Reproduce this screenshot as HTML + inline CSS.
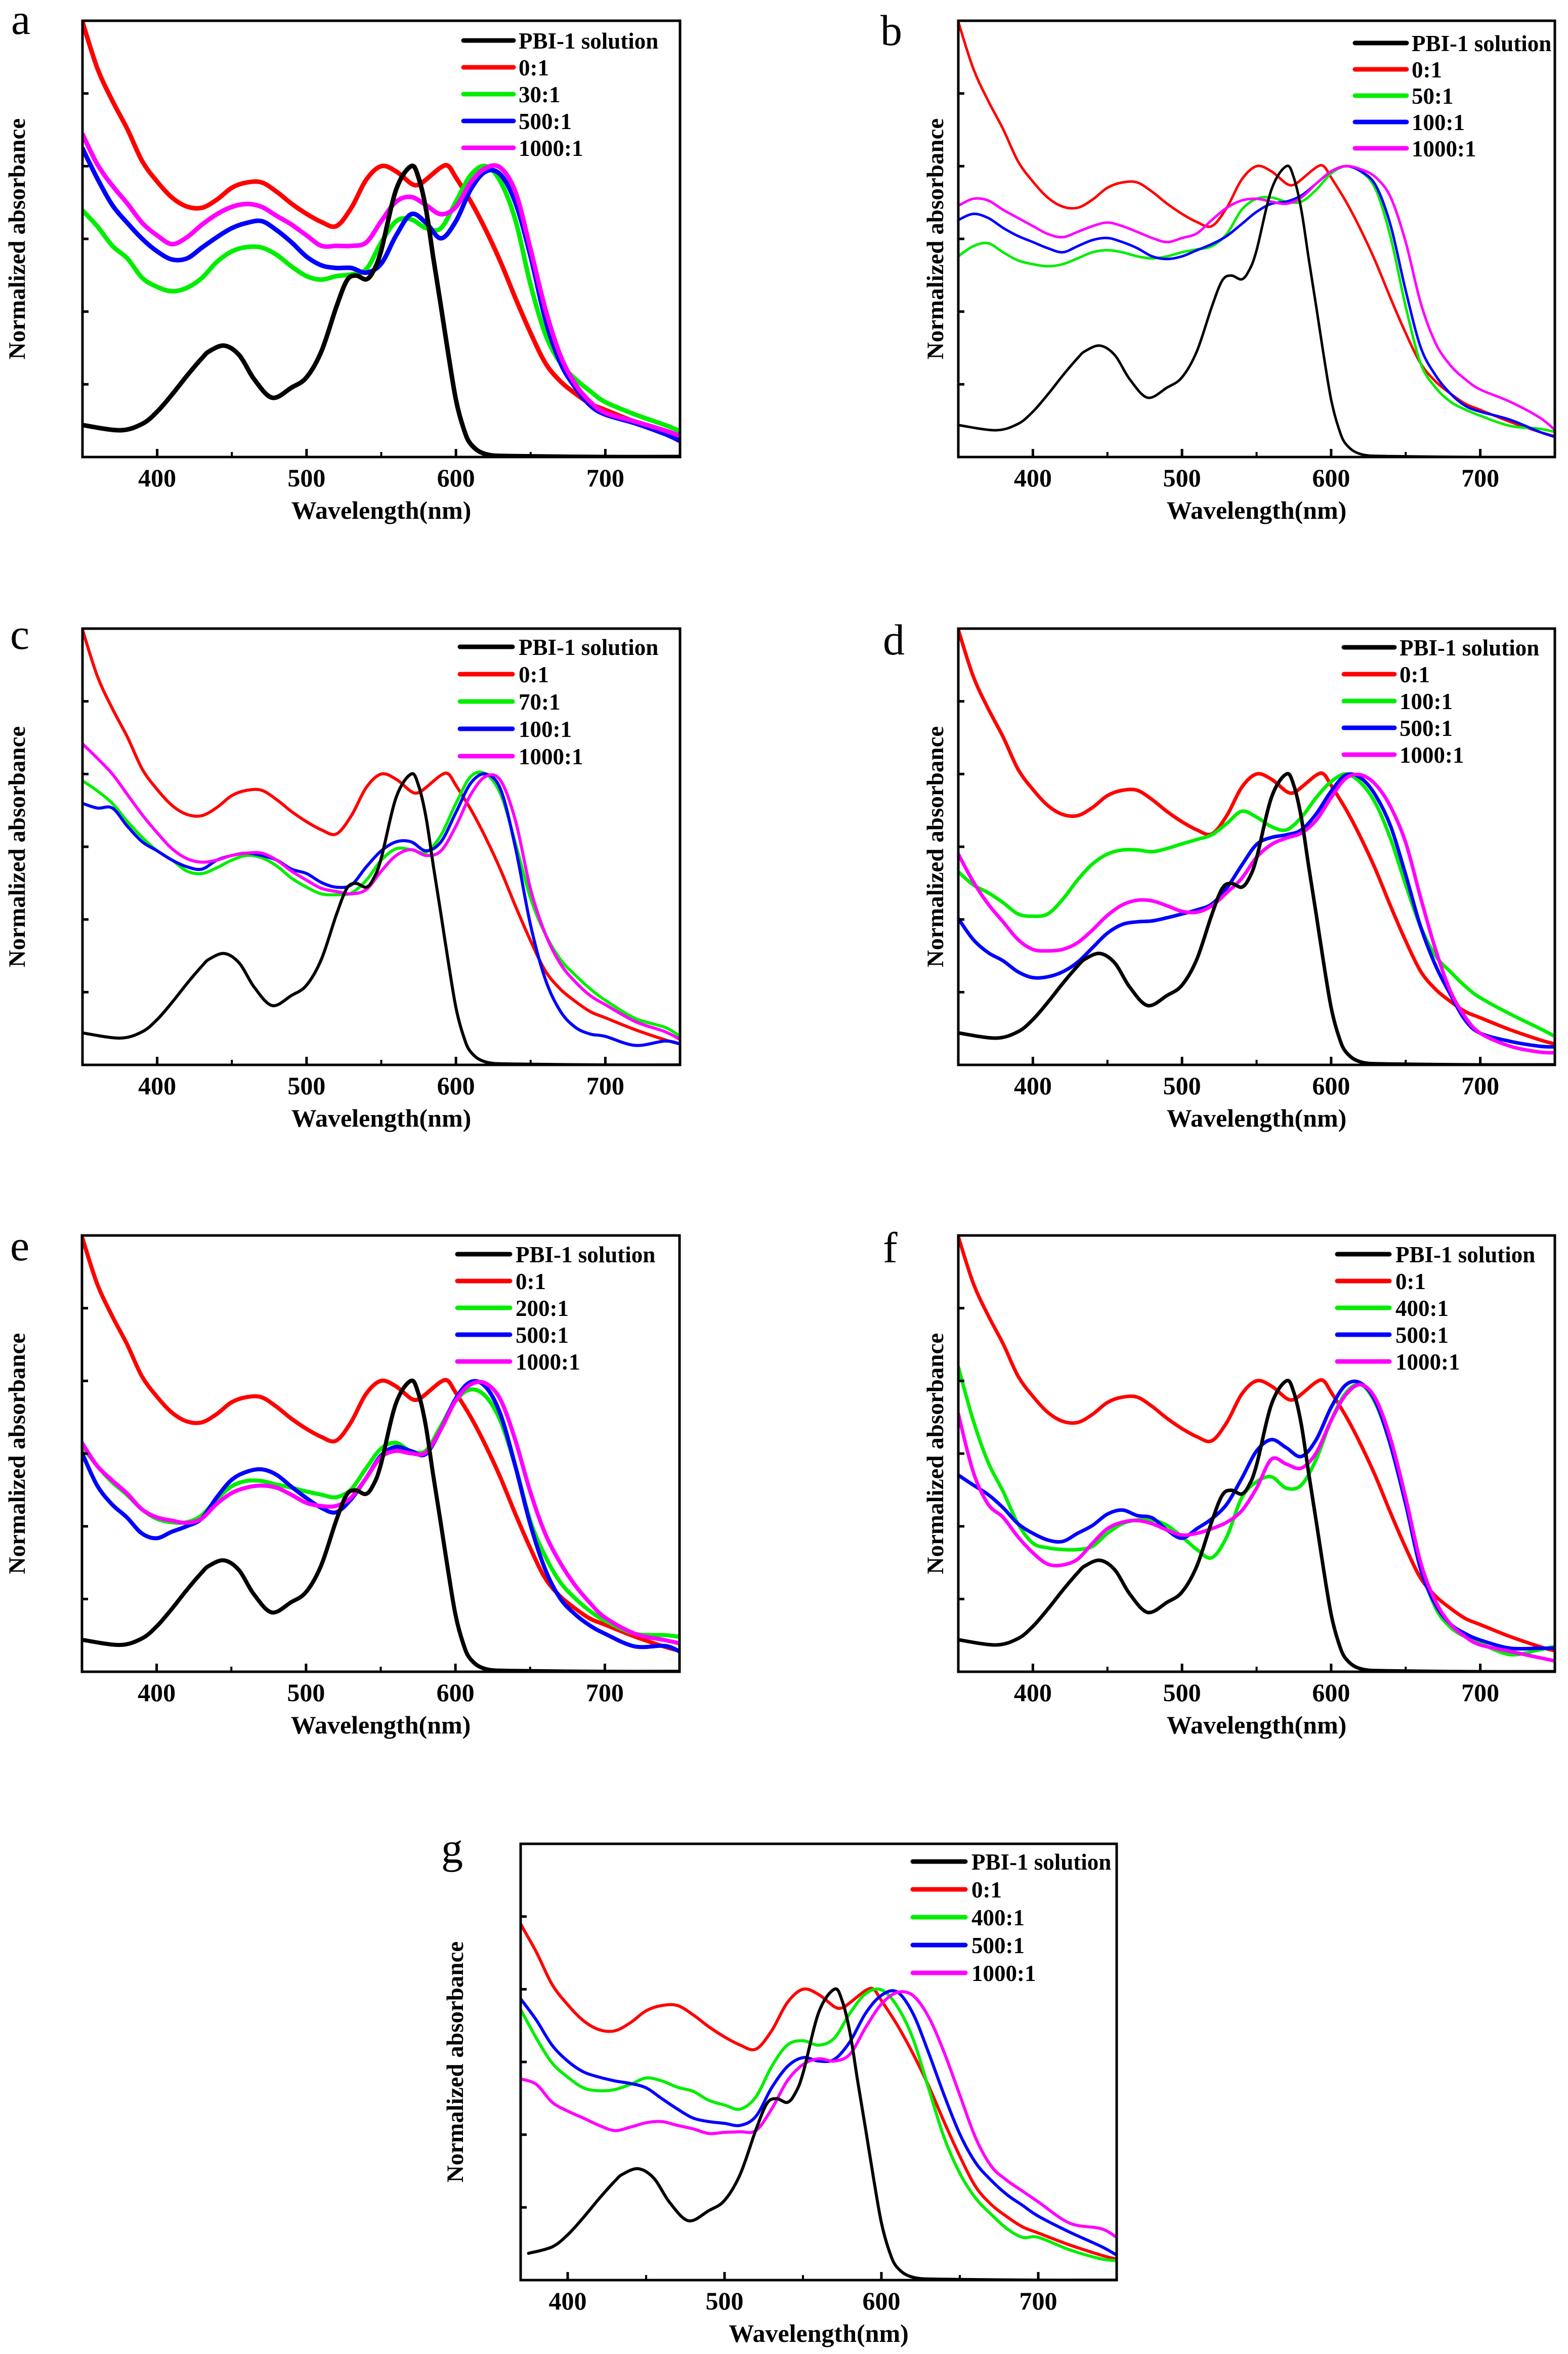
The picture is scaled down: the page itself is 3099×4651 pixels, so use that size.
<!DOCTYPE html>
<html><head><meta charset="utf-8"><style>
html,body{margin:0;padding:0;background:#fff}
svg{display:block}
text{font-family:"Liberation Serif",serif}
</style></head><body>
<svg id="fig" width="3099" height="4651" viewBox="0 0 3099 4651" xmlns="http://www.w3.org/2000/svg"></svg>
<script>
// shared series (PBI-1 solution and 0:1)
const blackWl = [350,375,390,400,410,420,430,435,445,455,465,477,490,500,510,520,527,533,540,545,550,560,570,575,580,585,590,595,600,605,610,620,640,700,750];
const blackVal = [0.11,0.092,0.114,0.156,0.215,0.28,0.34,0.364,0.383,0.35,0.267,0.204,0.239,0.274,0.364,0.517,0.607,0.624,0.611,0.642,0.711,0.92,1.0,0.96,0.85,0.68,0.517,0.35,0.197,0.1,0.044,0.01,0.003,0,0];
const redWl = [350,360,370,380,390,400,410,420,430,440,450,460,470,480,490,500,510,520,530,540,550,560,570,575,580,590,595,600,610,620,630,640,650,660,670,680,690,700,720,740,750];
const redVal = [1.496,1.336,1.225,1.128,1.017,0.947,0.892,0.861,0.857,0.885,0.926,0.944,0.944,0.912,0.871,0.836,0.808,0.794,0.857,0.954,1.0,0.982,0.94,0.936,0.954,0.996,1.0,0.961,0.878,0.78,0.669,0.544,0.426,0.322,0.26,0.218,0.183,0.162,0.121,0.086,0.072];
const grid = [350,360,370,380,390,400,410,420,430,440,450,460,470,480,490,500,510,520,530,540,550,560,570,580,590,600,610,620,630,640,650,660,670,680,690,700,720,740,750];
const gridG = [370,380,390,400,410,420,430,440,450,460,470,480,490,500,510,520,530,540,550,560,570,580,590,600,610,620,630,640,650,660,670,680,690,700,720,740,750];
const xTicks = [400,500,600,700];
const xMinor = [450,550,650];
const yTicks = [0.25,0.5,0.75,1.0,1.25];
const legendColors = ["#000000","#ff0000","#00ee00","#0000ff","#ff00ff"];

// panel a
const aLabels = ["PBI-1 solution","0:1","30:1","500:1","1000:1"];
const aGreen = [0.848,0.793,0.726,0.683,0.616,0.585,0.57,0.582,0.616,0.671,0.707,0.722,0.72,0.695,0.655,0.622,0.61,0.622,0.628,0.646,0.738,0.811,0.817,0.787,0.787,0.878,0.97,1.0,0.945,0.811,0.591,0.42,0.323,0.268,0.226,0.189,0.146,0.11,0.089];
const aBlue = [1.061,0.957,0.866,0.805,0.75,0.707,0.679,0.683,0.72,0.756,0.787,0.805,0.811,0.78,0.738,0.689,0.659,0.65,0.65,0.634,0.665,0.762,0.835,0.805,0.752,0.811,0.921,0.982,0.97,0.872,0.689,0.47,0.323,0.238,0.177,0.146,0.116,0.079,0.055];
const aMag = [1.11,1.006,0.933,0.872,0.805,0.762,0.732,0.756,0.799,0.835,0.86,0.87,0.86,0.829,0.799,0.762,0.726,0.726,0.726,0.738,0.811,0.878,0.894,0.866,0.835,0.86,0.945,0.994,0.994,0.909,0.713,0.506,0.348,0.25,0.189,0.152,0.122,0.091,0.073];
// panel b
const bLabels = ["PBI-1 solution","0:1","50:1","100:1","1000:1"];
const bGreen = [0.69,0.725,0.735,0.704,0.676,0.663,0.656,0.663,0.683,0.704,0.711,0.704,0.69,0.683,0.69,0.704,0.714,0.725,0.767,0.85,0.888,0.892,0.878,0.878,0.919,0.975,1.0,0.982,0.919,0.753,0.517,0.322,0.239,0.19,0.163,0.142,0.107,0.097,0.086];
const bBlue = [0.815,0.836,0.822,0.788,0.76,0.739,0.718,0.704,0.725,0.746,0.753,0.739,0.718,0.69,0.681,0.69,0.711,0.732,0.76,0.801,0.843,0.871,0.878,0.899,0.94,0.982,1.0,0.982,0.933,0.794,0.572,0.378,0.281,0.218,0.176,0.156,0.128,0.086,0.069];
const bMag = [0.864,0.888,0.882,0.85,0.822,0.794,0.767,0.756,0.774,0.794,0.806,0.794,0.774,0.753,0.739,0.753,0.769,0.815,0.857,0.882,0.888,0.878,0.871,0.892,0.94,0.982,1.0,0.989,0.961,0.892,0.739,0.531,0.392,0.315,0.267,0.232,0.19,0.135,0.093];
// panel c
const cLabels = ["PBI-1 solution","0:1","70:1","100:1","1000:1"];
const cGreen = [0.977,0.942,0.899,0.837,0.782,0.736,0.704,0.666,0.658,0.678,0.704,0.72,0.712,0.684,0.642,0.611,0.588,0.585,0.591,0.635,0.704,0.743,0.74,0.731,0.79,0.899,0.992,1.0,0.93,0.759,0.572,0.448,0.362,0.308,0.261,0.222,0.16,0.129,0.098];
const cBlue = [0.899,0.883,0.883,0.821,0.767,0.736,0.704,0.681,0.673,0.704,0.72,0.728,0.72,0.704,0.673,0.658,0.627,0.611,0.619,0.681,0.736,0.767,0.767,0.736,0.767,0.868,0.969,1.0,0.946,0.743,0.479,0.292,0.184,0.129,0.106,0.098,0.067,0.082,0.072];
const cMag = [1.104,1.054,1.0,0.93,0.86,0.798,0.743,0.709,0.697,0.704,0.72,0.728,0.728,0.704,0.666,0.635,0.607,0.596,0.588,0.603,0.666,0.72,0.74,0.72,0.736,0.821,0.93,0.992,0.977,0.837,0.603,0.448,0.347,0.285,0.238,0.207,0.149,0.114,0.087];
// panel d
const dLabels = ["PBI-1 solution","0:1","100:1","500:1","1000:1"];
const dGreen = [0.664,0.619,0.592,0.558,0.519,0.511,0.519,0.569,0.636,0.691,0.725,0.739,0.739,0.733,0.744,0.76,0.775,0.791,0.83,0.872,0.852,0.819,0.808,0.851,0.919,0.974,1.0,0.969,0.897,0.775,0.619,0.475,0.375,0.32,0.27,0.231,0.175,0.125,0.098];
const dBlue = [0.503,0.431,0.386,0.358,0.32,0.3,0.303,0.32,0.353,0.403,0.453,0.483,0.492,0.495,0.506,0.519,0.533,0.553,0.608,0.686,0.758,0.782,0.791,0.808,0.863,0.941,0.997,0.986,0.925,0.819,0.653,0.475,0.342,0.242,0.153,0.109,0.081,0.064,0.062];
const dMag = [0.725,0.63,0.553,0.492,0.431,0.397,0.392,0.397,0.42,0.464,0.514,0.55,0.566,0.564,0.547,0.528,0.525,0.547,0.592,0.641,0.714,0.758,0.78,0.797,0.841,0.919,0.986,0.997,0.963,0.886,0.764,0.575,0.397,0.253,0.164,0.109,0.064,0.044,0.042];
// panel e
const eLabels = ["PBI-1 solution","0:1","200:1","500:1","1000:1"];
const eGreen = [0.776,0.709,0.653,0.609,0.559,0.526,0.514,0.514,0.537,0.592,0.637,0.656,0.656,0.644,0.633,0.62,0.609,0.6,0.626,0.698,0.766,0.787,0.759,0.759,0.842,0.931,0.97,0.948,0.864,0.709,0.52,0.398,0.309,0.253,0.209,0.176,0.131,0.126,0.12];
const eBlue = [0.753,0.642,0.576,0.531,0.476,0.459,0.481,0.5,0.526,0.598,0.659,0.687,0.696,0.678,0.637,0.598,0.564,0.548,0.592,0.664,0.742,0.773,0.759,0.748,0.831,0.937,0.996,0.981,0.887,0.709,0.509,0.353,0.253,0.198,0.159,0.131,0.087,0.089,0.07];
const eMag = [0.787,0.709,0.659,0.614,0.559,0.531,0.52,0.512,0.526,0.576,0.614,0.633,0.64,0.633,0.609,0.581,0.57,0.57,0.598,0.664,0.737,0.759,0.751,0.753,0.831,0.931,0.987,0.992,0.937,0.798,0.62,0.476,0.376,0.298,0.237,0.187,0.131,0.109,0.098];
// panel f
const fLabels = ["PBI-1 solution","0:1","400:1","500:1","1000:1"];
const fGreen = [1.048,0.864,0.72,0.62,0.509,0.442,0.426,0.42,0.42,0.431,0.476,0.509,0.522,0.522,0.503,0.464,0.42,0.392,0.464,0.598,0.653,0.67,0.631,0.642,0.731,0.864,0.959,0.987,0.92,0.776,0.576,0.364,0.22,0.153,0.12,0.098,0.059,0.076,0.087];
const fBlue = [0.676,0.642,0.609,0.564,0.509,0.476,0.453,0.448,0.476,0.503,0.542,0.556,0.537,0.529,0.487,0.459,0.492,0.526,0.576,0.664,0.759,0.798,0.77,0.74,0.798,0.909,0.987,0.992,0.926,0.776,0.576,0.353,0.231,0.164,0.131,0.109,0.081,0.081,0.081];
const fMag = [0.887,0.687,0.576,0.531,0.464,0.409,0.37,0.367,0.387,0.442,0.492,0.514,0.52,0.509,0.487,0.47,0.476,0.492,0.514,0.553,0.631,0.731,0.714,0.7,0.753,0.864,0.953,0.987,0.937,0.798,0.598,0.376,0.242,0.164,0.12,0.092,0.07,0.048,0.037];
// panel g (370-750)
const gLabels = ["PBI-1 solution","0:1","400:1","500:1","1000:1"];
const gGreen = [0.93,0.832,0.747,0.698,0.661,0.651,0.655,0.673,0.695,0.685,0.663,0.649,0.618,0.602,0.588,0.63,0.734,0.808,0.823,0.808,0.832,0.918,0.985,0.998,0.942,0.832,0.661,0.49,0.367,0.282,0.226,0.177,0.147,0.147,0.104,0.073,0.067];
const gBlue = [0.967,0.894,0.808,0.753,0.716,0.698,0.685,0.676,0.661,0.624,0.588,0.557,0.545,0.539,0.532,0.563,0.661,0.734,0.765,0.753,0.759,0.82,0.918,0.979,0.991,0.918,0.783,0.636,0.502,0.404,0.343,0.294,0.257,0.22,0.165,0.116,0.086];
const gMag = [0.692,0.673,0.612,0.581,0.557,0.532,0.514,0.526,0.541,0.545,0.532,0.52,0.504,0.508,0.51,0.514,0.588,0.685,0.741,0.761,0.753,0.777,0.869,0.949,0.989,0.979,0.906,0.783,0.636,0.49,0.392,0.343,0.306,0.269,0.196,0.177,0.147];

const NS = "http://www.w3.org/2000/svg";
const svg = document.getElementById("fig");
function mk(tag, attrs, parent){ const e=document.createElementNS(NS,tag); for(const k in attrs) e.setAttribute(k,attrs[k]); (parent||svg).appendChild(e); return e; }

function pathD(pts){
  let d = "M"+pts[0][0].toFixed(1)+","+pts[0][1].toFixed(1);
  for(let i=0;i<pts.length-1;i++){
    const p0=pts[Math.max(0,i-1)], p1=pts[i], p2=pts[i+1], p3=pts[Math.min(pts.length-1,i+2)];
    const c1x=p1[0]+(p2[0]-p0[0])/6, c1y=p1[1]+(p2[1]-p0[1])/6;
    const c2x=p2[0]-(p3[0]-p1[0])/6, c2y=p2[1]-(p3[1]-p1[1])/6;
    d+=" C"+c1x.toFixed(1)+","+c1y.toFixed(1)+" "+c2x.toFixed(1)+","+c2y.toFixed(1)+" "+p2[0].toFixed(1)+","+p2[1].toFixed(1);
  }
  return d;
}

const panels = [
  {id:"a", L:163, T:41, W:1181, xmin:350, lx:[753,852,862], ly:39, ls:53, sw:9, letter:[22,67], title:33, labels:aLabels, wl:grid, g:aGreen, b:aBlue, m:aMag},
  {id:"b", L:1894, T:41, W:1179, xmin:350, lx:[784,886,896], ly:44, ls:52, sw:5, letter:[1740,89], title:1848, labels:bLabels, wl:grid, g:bGreen, b:bBlue, m:bMag},
  {id:"c", L:163, T:1242, W:1181, xmin:350, lx:[746,850,862], ly:36, ls:54, sw:6, letter:[20,1282], title:33, labels:cLabels, wl:grid, g:cGreen, b:cBlue, m:cMag},
  {id:"d", L:1894, T:1242, W:1179, xmin:350, lx:[762,862,872], ly:37, ls:53, sw:7, letter:[1745,1293], title:1848, labels:dLabels, wl:grid, g:dGreen, b:dBlue, m:dMag},
  {id:"e", L:162, T:2441, W:1181, xmin:350, lx:[742,846,857], ly:37, ls:53, sw:8, letter:[20,2490], title:33, labels:eLabels, wl:grid, g:eGreen, b:eBlue, m:eMag},
  {id:"f", L:1894, T:2441, W:1179, xmin:350, lx:[749,852,864], ly:37, ls:53, sw:7, letter:[1745,2494], title:1848, labels:fLabels, wl:grid, g:fGreen, b:fBlue, m:fMag},
  {id:"g", L:1029, T:3643, W:1178, xmin:370, lx:[775,879,891], ly:35, ls:55, sw:6, letter:[872,3680], title:899, labels:gLabels, wl:gridG, g:gGreen, b:gBlue, m:gMag}
];
const H = 862, YMAX = 1.5, XMAX = 750;

panels.forEach(p=>{
  const grp = mk("g",{});
  
  
  const xs = v => p.L + (v - p.xmin) / (XMAX - p.xmin) * p.W;
  const ys = v => p.T + H - v / YMAX * H;
  const clipId = "clip"+p.id;
  const cp = mk("clipPath",{id:clipId},grp);
  mk("rect",{x:p.L,y:p.T,width:p.W,height:H},cp);

  const curves = [
    {wl:blackWl, v:blackVal, c:legendColors[0], n:"pbi-1-solution-curve"},
    {wl:redWl, v:redVal, c:legendColors[1], n:"ratio-0-1-curve"},
    {wl:p.wl, v:p.g, c:legendColors[2], n:"green-ratio-curve"},
    {wl:p.wl, v:p.b, c:legendColors[3], n:"blue-ratio-curve"},
    {wl:p.wl, v:p.m, c:legendColors[4], n:"magenta-ratio-curve"}
  ];
  const order = [1,2,3,4,0];
  order.forEach(i=>{
    const cv = curves[i];
    const pts = [];
    cv.wl.forEach((w,k)=>{ if(w>=p.xmin-10) pts.push([xs(w), ys(cv.v[k])]); });
    const path = mk("path",{d:pathD(pts), fill:"none", stroke:cv.c, "stroke-width":p.sw, "stroke-linejoin":"round", "stroke-linecap":"round", "clip-path":"url(#"+clipId+")"},grp);
    
    
  });

  const frame = mk("rect",{x:p.L,y:p.T,width:p.W,height:H,fill:"none",stroke:"#000","stroke-width":5},grp);
  
  

  xTicks.forEach(t=>{
    const tk = mk("line",{x1:xs(t),x2:xs(t),y1:p.T+H,y2:p.T+H-16,stroke:"#000","stroke-width":5},grp);
    
    
    const tl = mk("text",{x:xs(t),y:p.T+H+58,"text-anchor":"middle","font-size":50,"font-weight":"bold"},grp);
    tl.textContent = t;
    
    
  });
  xMinor.forEach(t=>{
    const tk = mk("line",{x1:xs(t),x2:xs(t),y1:p.T+H,y2:p.T+H-10,stroke:"#000","stroke-width":4},grp);
    
    
  });
  yTicks.forEach(t=>{
    const tk = mk("line",{x1:p.L,x2:p.L+12,y1:ys(t),y2:ys(t),stroke:"#000","stroke-width":5},grp);
    
    
  });

  const xt = mk("text",{x:p.L+p.W/2,y:p.T+H+122,"text-anchor":"middle","font-size":50,"font-weight":"bold"},grp);
  xt.textContent = "Wavelength(nm)";
  
  

  const cy = p.T + H/2;
  const yt = mk("text",{x:p.title,y:cy,"text-anchor":"middle","font-size":47,"font-weight":"bold",transform:"rotate(-90 "+p.title+" "+cy+") translate(0 16)"},grp);
  yt.textContent = "Normalized absorbance";
  
  

  const lt = mk("text",{x:p.letter[0],y:p.letter[1],"font-size":86},grp);
  lt.textContent = p.id;
  
  

  p.labels.forEach((lab,i)=>{
    const yy = p.T + p.ly + i*p.ls;
    const ln = mk("line",{x1:p.L+p.lx[0],x2:p.L+p.lx[1],y1:yy,y2:yy,stroke:legendColors[i],"stroke-width":9,"stroke-linecap":"round"},grp);
    
    
    const tx = mk("text",{x:p.L+p.lx[2],y:yy+16,"font-size":45,"font-weight":"bold"},grp);
    tx.textContent = lab;
    
    
  });
});
</script>
</body></html>
